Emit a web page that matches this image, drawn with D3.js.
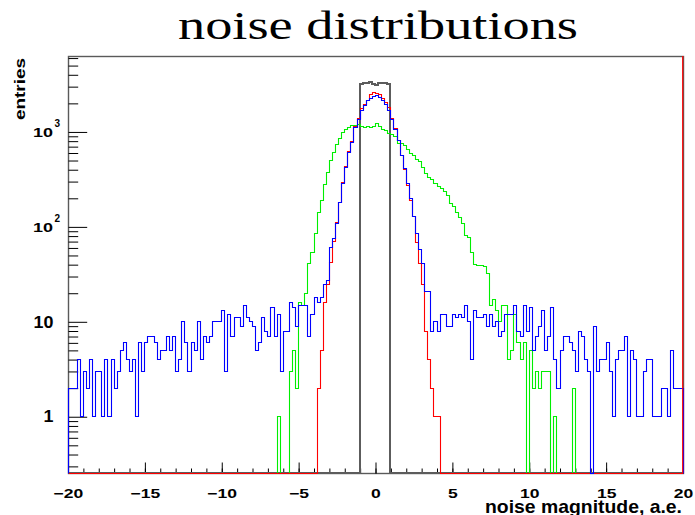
<!DOCTYPE html>
<html><head><meta charset="utf-8">
<script src="https://cdn.jsdelivr.net/npm/d3@7"></script>
<style>body{margin:0;background:#fff;} svg{display:block;}</style>
</head><body>
<svg id="c" width="695" height="515"></svg>
<script>
// ---------- data ----------
const xRange = [-20, 20];
const binCount = 200;
const yDomain = [0.2555, 6310];
const xTicksMajor = [-20, -15, -10, -5, 0, 5, 10, 15, 20];
const xTickLabels = ["\u221220", "\u221215", "\u221210", "\u22125", "0", "5", "10", "15", "20"];
const yTicksMajor = [1, 10, 100, 1000];
const yTickBase = ["1", "10", "10", "10"];
const yTickExp = ["", "", "2", "3"];
const titleText = "noise distributions";
const xTitle = "noise magnitude, a.e.";
const yTitle = "entries";

const blackCounts = [
  0,0,0,0,0,0,0,0,0,0, 0,0,0,0,0,0,0,0,0,0,
  0,0,0,0,0,0,0,0,0,0, 0,0,0,0,0,0,0,0,0,0,
  0,0,0,0,0,0,0,0,0,0, 0,0,0,0,0,0,0,0,0,0,
  0,0,0,0,0,0,0,0,0,0, 0,0,0,0,0,0,0,0,0,0,
  0,0,0,0,0,0,0,0,0,0, 0,0,0,0,0,3150,3250,3200,3280,3180,
  3120,3260,3200,3200,3190,0,0,0,0,0, 0,0,0,0,0,0,0,0,0,0,
  0,0,0,0,0,0,0,0,0,0, 0,0,0,0,0,0,0,0,0,0,
  0,0,0,0,0,0,0,0,0,0, 0,0,0,0,0,0,0,0,0,0,
  0,0,0,0,0,0,0,0,0,0, 0,0,0,0,0,0,0,0,0,0,
  0,0,0,0,0,0,0,0,0,0, 0,0,0,0,0,0,0,0,0,0
];
const redCounts = [
  0,0,0,0,0,0,0,0,0,0, 0,0,0,0,0,0,0,0,0,0,
  0,0,0,0,0,0,0,0,0,0, 0,0,0,0,0,0,0,0,0,0,
  0,0,0,0,0,0,0,0,0,0, 0,0,0,0,0,0,0,0,0,0,
  0,0,0,0,0,0,0,0,0,0, 0,0,0,0,0,0,0,0,0,0,
  0,2,5,16,25,42,70,110,180,290, 430,620,800,1150,1400,1750,1950,2170,2500,2600,
  2570,2500,2270,2040,1820,1400,1100,820,570,400, 270,190,130,69,41,25,8,4,2,1,
  1,0,0,0,0,0,0,0,0,0, 0,0,0,0,0,0,0,0,0,0,
  0,0,0,0,0,0,0,0,0,0, 0,0,0,0,0,0,0,0,0,0,
  0,0,0,0,0,0,0,0,0,0, 0,0,0,0,0,0,0,0,0,0,
  0,0,0,0,0,0,0,0,0,0, 0,0,0,0,0,0,0,0,0,0
];
const greenCounts = [
  0,0,0,0,0,0,0,0,0,0, 0,0,0,0,0,0,0,0,0,0,
  0,0,0,0,0,0,0,0,0,0, 0,0,0,0,0,0,0,0,0,0,
  0,0,0,0,0,0,0,0,0,0, 0,0,0,0,0,0,0,0,0,0,
  0,0,0,0,0,0,0,0,1,0, 0,0,3,5,2,16,15,20,41,54,
  85,143,189,279,376,498,609,734,863,988, 1072,1115,1160,1160,1190,1133,1115,1140,1115,1140,
  1214,1133,1072,1030,965,950,890,757,747,716, 661,594,562,518,489,418,366,333,312,288,
  265,251,235,213,177,164,143,126,108,81, 78,54,40,39,39,38,32,15,17,13,
  10,15,15,4,5,12,6,4,6,0, 5,2,3,2,3,3,3,0,1,0,
  0,0,0,0,2,0,0,0,0,0, 0,0,0,0,0,0,0,0,0,0,
  0,0,0,0,0,0,0,0,0,0, 0,0,0,0,0,0,0,0,0,0
];
const blueCounts = [
  2,2,2,4,1,3,2,4,1,3, 3,1,4,1,4,2,3,5,6,4,
  3,4,1,6,3,6,7,7,6,4, 5,5,7,5,7,3,4,10,6,3,
  6,5,10,4,7,6,7,10,10,10, 13,3,12,7,11,11,9,15,11,10,
  9,5,6,11,8,7,14,7,12,3, 8,8,16,14,9,15,15,15,7,12,
  18,16,18,25,27,60,75,108,182,284, 424,609,777,1114,1365,1700,1884,2127,2270,2360,
  2400,2330,2127,1930,1700,1365,1070,820,570,410, 284,200,130,85,58,41,21,21,8,10,
  8,12,12,9,9,12,11,12,11,15, 10,4,13,11,11,12,9,12,9,10,
  7,8,12,12,12,15,8,7,15,8, 14,5,7,9,13,5,7,14,4,2,
  5,7,7,6,5,3,8,7,4,3, 0,9,3,4,4,6,3,1,4,5,
  5,7,1,5,4,1,1,3,4,4, 1,1,1,2,2,1,5,2,2,2
];

// ---------- layout ----------
const svg = d3.select("#c");
const L = 68, R = 683, T = 56, B = 473;
const x = d3.scaleLinear().domain(xRange).range([L, R]);
const y = d3.scaleLog().domain(yDomain).range([B, T]);

const clip = svg.append("clipPath").attr("id", "pc").append("rect")
  .attr("x", L - 1).attr("y", T).attr("width", R - L + 3).attr("height", B - T + 2);

// frame
svg.append("rect").attr("x", L + 0.5).attr("y", T + 0.5).attr("width", R - L).attr("height", B - T)
  .attr("fill", "none").attr("stroke", "#5a5a5a").attr("stroke-width", 1.4);

// axes (ticks inward)
const xMinor = d3.range(xRange[0], xRange[1] + 1, 1);
svg.append("g").attr("transform", `translate(0,${B + 0.5})`)
  .call(d3.axisBottom(x).tickValues(xMinor).tickSize(-5).tickFormat(""))
  .call(g => g.select(".domain").remove());
const xAx = svg.append("g").attr("transform", `translate(0,${B + 0.5})`)
  .call(d3.axisBottom(x).tickValues(xTicksMajor).tickSize(-11).tickFormat((d, i) => xTickLabels[i]))
  .call(g => g.select(".domain").remove());
xAx.selectAll("text").attr("y", 24.5).attr("dy", null)
  .attr("transform", "scale(1.35,1)")
  .style("font-family", "'Liberation Sans', Arial, sans-serif").style("font-weight", "bold")
  .style("font-size", "13px").attr("fill", "#000");

const yMinor = [];
[0.1, 1, 10, 100, 1000].forEach(dec => d3.range(2, 10).forEach(k => {
  const v = dec * k; if (v > yDomain[0] && v < yDomain[1]) yMinor.push(v);
}));
svg.append("g").attr("transform", `translate(${L + 0.5},0)`)
  .call(d3.axisLeft(y).tickValues(yMinor).tickSize(-9.7).tickFormat(""))
  .call(g => g.select(".domain").remove());
const yAx = svg.append("g").attr("transform", `translate(${L + 0.5},0)`)
  .call(d3.axisLeft(y).tickValues(yTicksMajor).tickSize(-18.7).tickFormat(""))
  .call(g => g.select(".domain").remove());
yAx.selectAll(".tick").each(function (d, i) {
  const g = d3.select(this);
  g.select("text").remove();
  const f = "'Liberation Sans', Arial, sans-serif";
  if (yTickExp[i] === "") {
    g.append("text").attr("x", 0).attr("y", 5.2)
      .attr("transform", "translate(-15,0) scale(1.12,1)")
      .attr("text-anchor", "end").style("font-family", f).style("font-weight", "bold")
      .style("font-size", "16px").attr("fill", "#000").text(yTickBase[i]);
  } else {
    g.append("text").attr("x", 0).attr("y", 5)
      .attr("transform", "translate(-15.5,0) scale(1.5,1)")
      .attr("text-anchor", "end").style("font-family", f).style("font-weight", "bold")
      .style("font-size", "12px").attr("fill", "#000").text(yTickBase[i]);
    g.append("text").attr("x", -14).attr("y", -5)
      .attr("text-anchor", "start").style("font-family", f).style("font-weight", "bold")
      .style("font-size", "10px").attr("fill", "#000").text(yTickExp[i]);
  }
});

// histograms
const binW = (xRange[1] - xRange[0]) / binCount;
function edgeX(i, off) { return Math.floor(x(xRange[0] + i * binW)) + off; }
function valY(v, off) {
  if (!(v > yDomain[0])) return B + off;
  return Math.floor(y(v)) + off;
}
const line = d3.line();
function histPoints(counts, off) {
  const pts = [[edgeX(0, off), valY(0, off)]];
  counts.forEach((c, i) => {
    const yy = valY(c, off);
    pts.push([edgeX(i, off), yy]);
    pts.push([edgeX(i + 1, off), yy]);
  });
  pts.push([edgeX(binCount, off), valY(0, off)]);
  return pts;
}
const hg = svg.append("g").attr("clip-path", "url(#pc)");
const series = [
  { counts: blackCounts, color: "#5c5c5c", w: 2, off: 0 },
  { counts: greenCounts, color: "#00ee00", w: 1.1, off: 0.5 },
  { counts: redCounts, color: "#ff0000", w: 1.1, off: 0.5 },
  { counts: blueCounts, color: "#0000ff", w: 1.1, off: 0.5 }
];
series.forEach(s => {
  hg.append("path").attr("d", line(histPoints(s.counts, s.off)))
    .attr("fill", "none").attr("stroke", s.color).attr("stroke-width", s.w)
    .attr("stroke-linejoin", "miter");
});
// red closing edge at the upper x limit
hg.append("line").attr("x1", x(xRange[1]) - 0.3).attr("x2", x(xRange[1]) - 0.3)
  .attr("y1", y(yDomain[1])).attr("y2", B)
  .attr("stroke", "#ff0000").attr("stroke-width", 1.2);

// titles
svg.append("text").attr("x", 178).attr("y", 38.5)
  .attr("textLength", 400).attr("lengthAdjust", "spacingAndGlyphs")
  .style("font-family", "'Liberation Serif', 'Times New Roman', serif")
  .style("font-size", "40px").attr("fill", "#000").text(titleText);
svg.append("text").attr("x", 485).attr("y", 512.5)
  .attr("textLength", 197).attr("lengthAdjust", "spacingAndGlyphs")
  .style("font-family", "'Liberation Sans', Arial, sans-serif").style("font-weight", "bold")
  .style("font-size", "19px").attr("fill", "#000").text(xTitle);
svg.append("text").attr("transform", "translate(25,120) rotate(-90)")
  .attr("textLength", 62).attr("lengthAdjust", "spacingAndGlyphs")
  .style("font-family", "'Liberation Sans', Arial, sans-serif").style("font-weight", "bold")
  .style("font-size", "14px").attr("fill", "#000").text(yTitle);
</script>
</body></html>
